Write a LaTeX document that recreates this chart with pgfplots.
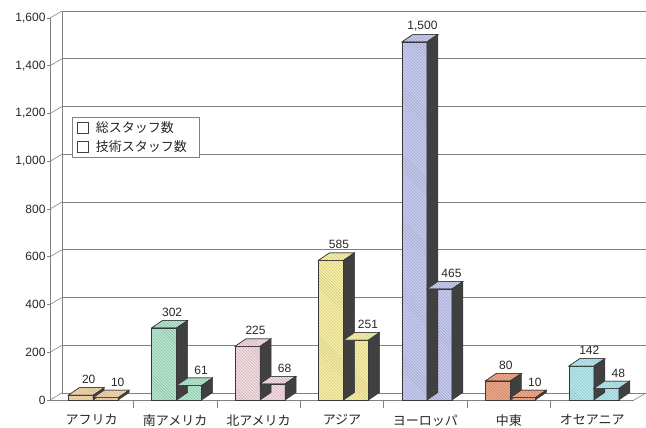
\documentclass[border=0pt]{standalone}
\usepackage{pgfplots}
\usepackage{pgfplotstable}
\pgfplotsset{compat=1.18}
\usepackage{fontspec}
\setmainfont{Liberation Sans}
\newfontfamily\jp{Noto Sans CJK JP}
\usetikzlibrary{patterns}

\definecolor{cat0}{HTML}{F4D9B0}
\definecolor{cat1}{HTML}{B4E8CE}
\definecolor{cat2}{HTML}{F6DCE2}
\definecolor{cat3}{HTML}{FAF1A4}
\definecolor{cat4}{HTML}{C8CBF2}
\definecolor{cat5}{HTML}{F1A888}
\definecolor{cat6}{HTML}{B4EAF0}
\definecolor{gridc}{HTML}{808080}
\definecolor{edgec}{HTML}{383838}
\definecolor{sidec}{HTML}{404040}

\pgfdeclareplotmark{blank}{}

\pgfplotstableread{
x y
0 20
1 302
2 225
3 585
4 1500
5 80
6 142
}\totaltab
\pgfplotstableread{
x y
0 10
1 61
2 68
3 251
4 465
5 10
6 48
}\techtab

\newcommand\drawfaces[2]{%
  \pgfmathsetmacro\Hb{-\ry*0.23875}%
  \pgfmathsetmacro\Hc{7.5-\ry*0.23875}%
  \pgfmathtruncatemacro\ci{\rx}%
  \begin{scope}[x=1bp,y=1bp,line width=0.5bp]
    \filldraw[draw=edgec,fill=cat\ci,postaction={pattern=north west lines,pattern color=cat\ci!78!black}]
      (#1,0) -- (#2,0) -- (#2+11,7.5) -- (#1+11,7.5) -- cycle;
    \filldraw[draw=edgec,fill=sidec] (#2,0) -- (#2+11,7.5) -- (#2+11,\Hc) -- (#2,\Hb) -- cycle;
  \end{scope}}

\pgfplotsset{
  frontbar/.style 2 args={ybar, bar width=25bp, draw=edgec, line width=0.5bp, fill=#1,
    postaction={pattern=north west lines, pattern color=#1!78!black},
    forget plot, nodes near coords,
    every node near coord/.append style={font=\fontsize{12bp}{14bp}\selectfont, text=black!85,
      anchor=south, inner sep=0pt, yshift=11bp, xshift=#2}},
  faces/.style 2 args={only marks, mark=blank, scatter, forget plot,
    visualization depends on={rawy \as \ry},
    visualization depends on={rawx \as \rx},
    scatter/@pre marker code/.code={\drawfaces{#1}{#2}},
    scatter/@post marker code/.code={}},
}

\begin{document}
\begin{tikzpicture}
\useasboundingbox (0,0) rectangle (646bp,428bp);
% back wall
\begin{axis}[
  at={(62bp,35bp)}, anchor=south west, scale only axis,
  width=584bp, height=382bp,
  xmin=-0.5, xmax=6.5, ymin=0, ymax=1600,
  xtick=\empty, ytick={0,200,...,1600}, yticklabels={,,,,,,,,},
  major tick length=0pt,
  ymajorgrids, grid style={draw=gridc, line width=0.6bp},
  axis line style={draw=gridc, line width=0.6bp},
]
\end{axis}
% front
\begin{axis}[
  at={(50bp,28bp)}, anchor=south west, scale only axis,
  width=584bp, height=382bp,
  xmin=-0.5, xmax=6.5, ymin=0, ymax=1600,
  clip=false,
  axis lines*=left,
  axis line style={draw=gridc, line width=0.6bp},
  tick align=outside,
  major tick length=3bp, minor tick length=8bp,
  tick style={draw=gridc, line width=0.6bp},
  major x tick style={draw=none},
  xtick={0,1,2,3,4,5,6},
  xticklabels={アフリカ,南アメリカ,北アメリカ,アジア,ヨーロッパ,中東,オセアニア},
  minor xtick={0.5,1.5,2.5,3.5,4.5,5.5},
  xticklabel style={font=\jp\fontsize{13bp}{15bp}\selectfont, text=black!85, yshift=-8bp},
  ytick={0,200,...,1600},
  yticklabel style={font=\fontsize{12bp}{14bp}\selectfont, text=black!85, xshift=2bp},
  /pgf/number format/1000 sep={,},
  /pgf/number format/assume math mode=true,
  legend style={at={(0.0377,0.741)}, anchor=north west, draw=gridc, fill=white,
    line width=0.6bp, font=\jp\fontsize{13bp}{15bp}\selectfont, text=black!85,
    inner xsep=5bp, inner ysep=3.5bp, row sep=4bp,
    nodes={inner xsep=7bp, inner ysep=1bp}},
  legend cell align=left,
  legend image code/.code={\draw[draw=black!75, fill=white, line width=0.6bp] (0bp,-5.5bp) rectangle (11bp,5.5bp);},
]
\addlegendimage{}
\addlegendentry{総スタッフ数}
\addlegendimage{}
\addlegendentry{技術スタッフ数}
\pgfplotsinvokeforeach{0,200,400,600,800,1000,1200,1400,1600}{
  \draw[gridc, line width=0.6bp] (axis cs:-0.5,#1) -- ++(12bp,7bp);
}
\draw[gridc, line width=0.6bp] (axis cs:6.5,0) -- ++(12bp,7bp);

\pgfplotsinvokeforeach{0,1,2,3,4,5,6}{
  \addplot[frontbar={cat#1}{-3bp}, bar shift=-11bp, restrict x to domain=#1:#1] table[x=x,y=y] {\totaltab};
}
\addplot[faces={-23.5}{1.5}] table[x=x,y=y] {\totaltab};
\pgfplotsinvokeforeach{0,1,2,3,4,5,6}{
  \addplot[frontbar={cat#1}{26bp}, bar shift=14bp, restrict x to domain=#1:#1] table[x=x,y=y] {\techtab};
}
\addplot[faces={1.5}{26.5}] table[x=x,y=y] {\techtab};
\end{axis}
\end{tikzpicture}
\end{document}
